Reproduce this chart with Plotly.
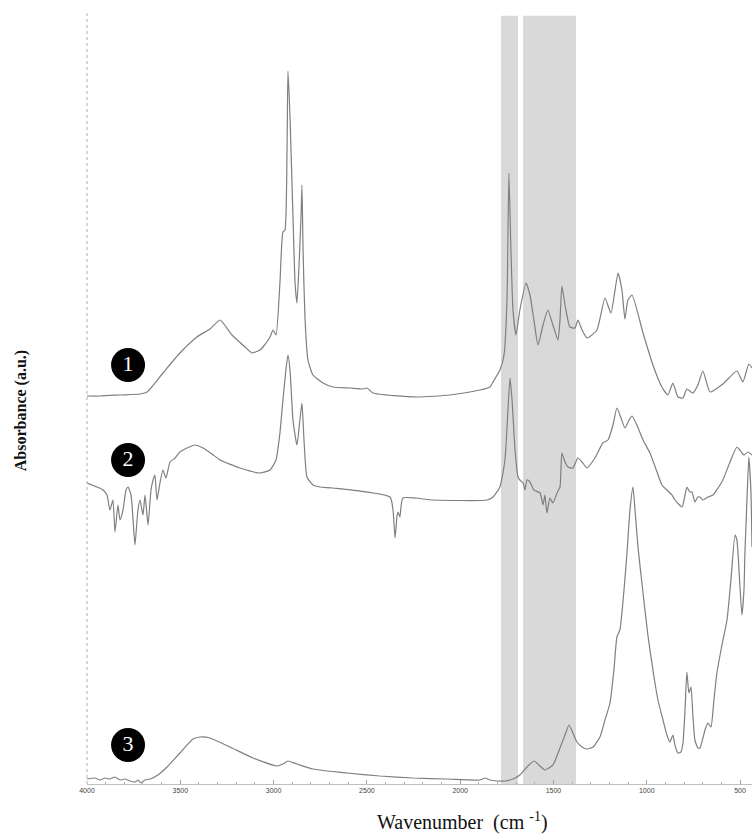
import plotly.graph_objects as go

# ---------------- data ----------------
wn1 = [4000, 3930, 3823, 3716, 3678, 3593, 3502, 3411, 3341, 3287, 3223, 3153, 3116, 3073, 3057,
       3019, 3003, 2987, 2966, 2950, 2939, 2928, 2923, 2912, 2896, 2885, 2875, 2864, 2853, 2848,
       2842, 2832, 2816, 2789, 2735, 2682, 2591, 2521, 2499, 2467, 2232, 2055, 1894, 1840, 1824,
       1787, 1765, 1749, 1739, 1728, 1717, 1701, 1680, 1647, 1626, 1605, 1583, 1556, 1530, 1503,
       1476, 1465, 1455, 1438, 1412, 1385, 1369, 1347, 1320, 1267, 1224, 1192, 1154, 1133, 1117,
       1101, 1079, 1020, 967, 919, 887, 860, 833, 806, 785, 753, 726, 699, 661, 592, 517, 485,
       453, 436]
ab1 = [3.88, 3.88, 3.89, 3.90, 3.92, 4.11, 4.31, 4.47, 4.55, 4.64, 4.49, 4.37, 4.31, 4.34, 4.37,
       4.47, 4.54, 4.49, 5.01, 5.52, 5.54, 6.34, 7.13, 6.67, 5.67, 5.01, 4.81, 5.17, 5.67, 5.99,
       5.34, 4.67, 4.24, 4.09, 4.01, 3.97, 3.96, 3.95, 3.96, 3.91, 3.87, 3.89, 3.94, 3.97, 4.02,
       4.14, 4.29, 4.84, 6.11, 5.34, 4.74, 4.49, 4.74, 5.01, 4.89, 4.64, 4.39, 4.59, 4.74, 4.59,
       4.44, 4.64, 4.98, 4.79, 4.57, 4.56, 4.64, 4.54, 4.46, 4.54, 4.86, 4.71, 5.11, 4.94, 4.65,
       4.84, 4.89, 4.51, 4.19, 3.97, 3.89, 4.01, 3.87, 3.86, 3.95, 3.91, 3.99, 4.13, 3.92, 4.00,
       4.13, 4.02, 4.20, 4.16]

wn2 = [4000, 3946, 3914, 3893, 3877, 3861, 3850, 3834, 3823, 3807, 3791, 3780, 3764, 3753, 3743,
       3727, 3716, 3700, 3689, 3673, 3657, 3646, 3636, 3625, 3609, 3593, 3577, 3555, 3528, 3502,
       3464, 3421, 3378, 3330, 3287, 3180, 3073, 3019, 2987, 2966, 2950, 2934, 2923, 2912, 2896,
       2875, 2859, 2848, 2837, 2821, 2789, 2751, 2682, 2376, 2360, 2349, 2338, 2333, 2323, 2307,
       2146, 1856, 1824, 1787, 1760, 1744, 1733, 1722, 1706, 1690, 1680, 1663, 1653, 1642, 1626,
       1605, 1572, 1556, 1546, 1535, 1519, 1503, 1481, 1465, 1455, 1438, 1422, 1396, 1369, 1347,
       1320, 1278, 1235, 1208, 1181, 1160, 1138, 1117, 1095, 1079, 1053, 1020, 983, 945, 919,
       892, 865, 849, 811, 795, 785, 769, 758, 742, 726, 715, 699, 672, 645, 618, 592, 554, 517,
       501, 490, 479, 458, 436]
ab2 = [3.01, 2.97, 2.94, 2.89, 2.74, 2.84, 2.52, 2.79, 2.64, 2.74, 2.94, 2.97, 2.89, 2.64, 2.39,
       2.74, 2.84, 2.69, 2.89, 2.59, 2.94, 3.04, 3.09, 2.84, 3.01, 3.14, 3.06, 3.22, 3.26, 3.32,
       3.36, 3.39, 3.36, 3.30, 3.24, 3.16, 3.11, 3.14, 3.24, 3.51, 3.84, 4.14, 4.29, 4.14, 3.64,
       3.39, 3.64, 3.81, 3.44, 3.07, 2.99, 2.97, 2.96, 2.87, 2.74, 2.46, 2.69, 2.72, 2.67, 2.86,
       2.84, 2.84, 2.87, 2.97, 3.24, 3.74, 4.06, 3.84, 3.34, 3.07, 3.04, 3.01, 2.94, 3.04, 3.02,
       2.94, 2.91, 2.79, 2.89, 2.71, 2.86, 2.81, 2.91, 2.97, 3.31, 3.22, 3.17, 3.16, 3.26, 3.22,
       3.16, 3.26, 3.41, 3.44, 3.59, 3.76, 3.66, 3.56, 3.64, 3.68, 3.59, 3.44, 3.31, 3.12, 2.99,
       2.94, 2.89, 2.84, 2.77, 2.89, 2.97, 2.92, 2.92, 2.82, 2.87, 2.87, 2.84, 2.87, 2.89, 2.96,
       3.04, 3.22, 3.37, 3.34, 3.31, 3.29, 3.32, 3.29]

wn3 = [4000, 3957, 3930, 3904, 3877, 3850, 3823, 3796, 3770, 3743, 3727, 3711, 3689, 3662, 3620,
       3571, 3502, 3432, 3394, 3341, 3234, 3110, 2982, 2950, 2923, 2875, 2789, 2607, 2430, 2253,
       2071, 1894, 1867, 1840, 1803, 1760, 1717, 1680, 1642, 1604, 1572, 1546, 1503, 1465, 1438,
       1417, 1396, 1374, 1347, 1320, 1288, 1251, 1224, 1197, 1176, 1160, 1144, 1122, 1106, 1090,
       1074, 1063, 1047, 1020, 994, 967, 940, 913, 892, 876, 860, 849, 833, 817, 806, 795, 785,
       774, 763, 753, 742, 726, 715, 699, 688, 672, 656, 640, 624, 597, 570, 549, 527, 517, 511,
       501, 490, 479, 474, 463, 453, 442, 436]
ab3 = [0.05, 0.06, 0.04, 0.06, 0.05, 0.07, 0.04, 0.05, 0.03, 0.02, 0.04, 0.01, 0.04, 0.05, 0.09,
       0.17, 0.31, 0.45, 0.47, 0.46, 0.37, 0.26, 0.18, 0.20, 0.23, 0.20, 0.15, 0.11, 0.08, 0.06,
       0.05, 0.04, 0.06, 0.04, 0.03, 0.03, 0.05, 0.09, 0.17, 0.23, 0.18, 0.14, 0.19, 0.36, 0.49,
       0.59, 0.51, 0.42, 0.37, 0.35, 0.37, 0.47, 0.64, 0.81, 1.14, 1.47, 1.54, 1.94, 2.31, 2.74,
       2.97, 2.74, 2.37, 1.91, 1.49, 1.14, 0.84, 0.64, 0.49, 0.42, 0.49, 0.39, 0.31, 0.32, 0.41,
       0.74, 1.12, 0.91, 0.97, 0.69, 0.44, 0.36, 0.36, 0.46, 0.54, 0.61, 0.57, 0.84, 1.11, 1.39,
       1.64, 2.04, 2.49, 2.44, 2.31, 1.99, 1.69, 1.94, 2.31, 2.84, 3.27, 2.94, 2.37]

# highlighted bands (cm-1)
band_low = [1690, 1379]
band_high = [1781, 1663]

# curve labels
label_text = ["1", "2", "3"]
label_wn = [3780, 3780, 3780]
label_ab = [4.19, 3.24, 0.39]

x_range = [4000, 436]
y_range = [0, 7.72]
major_ticks = [4000, 3500, 3000, 2500, 2000, 1500, 1000, 500]

# ---------------- figure ----------------
fig = go.Figure()

line_style = dict(color="#7f7f7f", width=1.2, shape="spline", smoothing=0.5)
for wn, ab in [(wn1, ab1), (wn2, ab2), (wn3, ab3)]:
    fig.add_trace(go.Scatter(x=wn, y=ab, mode="lines", line=line_style,
                             hoverinfo="skip", showlegend=False))

fig.add_trace(go.Scatter(
    x=label_wn, y=label_ab, mode="markers+text", text=label_text,
    textposition="middle center",
    textfont=dict(family="Liberation Serif", size=22, color="white"),
    marker=dict(size=34, color="black"),
    hoverinfo="skip", showlegend=False))

for lo, hi in zip(band_low, band_high):
    fig.add_shape(type="rect", xref="x", yref="paper", x0=lo, x1=hi, y0=0, y1=0.995,
                  fillcolor="#d9d9d9", line=dict(width=0), layer="below")

# dotted y-axis line
fig.add_shape(type="line", xref="x domain", yref="y domain", x0=0, x1=0, y0=0, y1=1,
              line=dict(color="#b0b0b0", width=1, dash="dot"))

fig.update_layout(
    width=752, height=837,
    margin=dict(l=87, r=0, t=12, b=53),
    plot_bgcolor="white", paper_bgcolor="white",
    hovermode=False,
    xaxis=dict(range=x_range, tickmode="array", tickvals=major_ticks,
               ticktext=[str(t) for t in major_ticks],
               showgrid=False, zeroline=False, showline=True, linecolor="#c0c0c0",
               linewidth=1, ticks="inside", ticklen=4, tickcolor="#a0a0a0",
               tickfont=dict(family="Liberation Sans", size=7, color="#444444"),
               minor=dict(dtick=100, ticks="inside", ticklen=2, tickcolor="#b0b0b0")),
    yaxis=dict(range=y_range, showgrid=False, zeroline=False, showline=False,
               showticklabels=False, ticks=""),
    annotations=[
        dict(text="Wavenumber  (cm <sup>-1</sup>)", xref="paper", yref="paper",
             x=0.565, y=-0.049, xanchor="center", yanchor="middle", showarrow=False,
             font=dict(family="Liberation Serif", size=20, color="#111111")),
        dict(text="<b>Absorbance (a.u.)</b>", xref="paper", yref="paper",
             x=-0.098, y=0.484, xanchor="center", yanchor="middle", showarrow=False,
             textangle=-90,
             font=dict(family="Liberation Serif", size=16, color="#111111")),
    ],
)

fig.write_html("out.html",
               config={"displayModeBar": False, "staticPlot": True},
               post_script="document.body.style.margin='0';document.body.style.overflow='hidden';")
